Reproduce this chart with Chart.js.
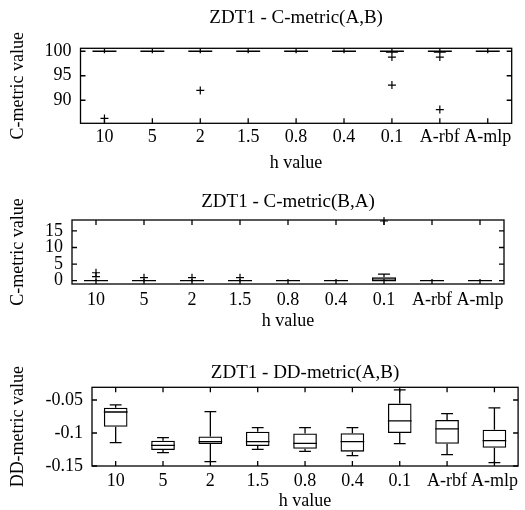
<!DOCTYPE html>
<html>
<head>
<meta charset="utf-8">
<title>ZDT1 - box plots</title>
<script src="https://cdn.jsdelivr.net/npm/chart.js@4.4.1/dist/chart.umd.min.js"></script>
<style>
  html, body { margin: 0; padding: 0; background: #fff; }
  #wrap { position: relative; width: 525px; height: 510px; }
  #wrap canvas { position: absolute; left: 0; top: 0; }
</style>
</head>
<body>
<div id="wrap">
  <canvas id="chart-ab" width="525" height="510"></canvas>
  <canvas id="chart-ba" width="525" height="510"></canvas>
  <canvas id="chart-dd" width="525" height="510"></canvas>
</div>
<script>
// ============================================
// DATA
// ============================================

const hValues = ['10', '5', '2', '1.5', '0.8', '0.4', '0.1', 'A-rbf', 'A-mlp'];

// C-metric(A,B)
const abLow    = [100, 100, 100, 100, 100, 100, 99.8, 99.8, 100];
const abQ1     = [100, 100, 100, 100, 100, 100, 99.9, 99.9, 100];
const abMedian = [100, 100, 100, 100, 100, 100, 100, 100, 100];
const abQ3     = [100, 100, 100, 100, 100, 100, 100, 100, 100];
const abHigh   = [100, 100, 100, 100, 100, 100, 100, 100, 100];
const abOutliers = [['10', 86.3], ['2', 92.0], ['0.1', 98.8], ['0.1', 93.1], ['A-rbf', 98.8], ['A-rbf', 88.1]];
const abTicks  = [90, 95, 100];

// C-metric(B,A)
const baLow    = [0, 0, 0, 0, 0, 0, 0, 0, 0];
const baQ1     = [0, 0, 0, 0, 0, 0, 0, 0, 0];
const baMedian = [0, 0, 0, 0, 0, 0, 0, 0, 0];
const baQ3     = [0, 0, 0, 0, 0, 0, 1.0, 0, 0];
const baHigh   = [0, 0, 0, 0, 0, 0, 2.0, 0, 0];
const baOutliers = [['10', 2.4], ['10', 1.2], ['5', 0.9], ['2', 0.9], ['1.5', 0.9], ['0.1', 18.0]];
const baTicks  = [0, 5, 10, 15];

// DD-metric(A,B)
const ddLow    = [-0.1147, -0.1298, -0.1435, -0.1248, -0.1278, -0.1344, -0.1162, -0.1328, -0.1450];
const ddQ1     = [-0.0906, -0.1258, -0.1167, -0.1197, -0.1240, -0.1283, -0.1000, -0.1162, -0.1223];
const ddMedian = [-0.0682, -0.1187, -0.1131, -0.1131, -0.1156, -0.1131, -0.0818, -0.0939, -0.1117];
const ddQ3     = [-0.0618, -0.1117, -0.1053, -0.0980, -0.1008, -0.1005, -0.0555, -0.0803, -0.0950];
const ddHigh   = [-0.0574, -0.1071, -0.0677, -0.0919, -0.0919, -0.0919, -0.0348, -0.0707, -0.0621];
const ddOutliers = [];
const ddTicks  = [-0.15, -0.1, -0.05];

// ============================================
// STYLE
// ============================================

const W = 525, H = 510;
const INK = '#000';
const LINE_W = 1.3;
const TICK = 5;
const FS = 18;
const SERIF = "'Liberation Serif', 'Times New Roman', serif";
const FONT = { family: SERIF, size: FS, weight: 'normal', lineHeight: 1 };
const TITLE_FONT = { family: SERIF, size: 19, weight: 'normal', lineHeight: 1 };

// ============================================
// PLUGINS
// ============================================

// whiskers, caps and median line on top of the floating bars
const boxWhiskers = {
    id: 'boxWhiskers',
    afterDatasetsDraw(chart, args, opts) {
        const { ctx, scales: { x, y } } = chart;
        const bars = chart.getDatasetMeta(0).data;
        const boxes = chart.data.datasets[0].data;
        ctx.save();
        ctx.strokeStyle = INK;
        ctx.lineWidth = LINE_W;
        bars.forEach((bar, i) => {
            const cx = x.getPixelForValue(i);
            const half = bar.width / 2;
            const cap = bar.width / 4;
            const yQ1 = y.getPixelForValue(Math.min(...boxes[i]));
            const yQ3 = y.getPixelForValue(Math.max(...boxes[i]));
            const yLow = y.getPixelForValue(opts.low[i]);
            const yHigh = y.getPixelForValue(opts.high[i]);
            const yMed = y.getPixelForValue(opts.median[i]);
            ctx.beginPath();
            ctx.moveTo(cx, yQ3); ctx.lineTo(cx, yHigh);
            ctx.moveTo(cx - cap, yHigh); ctx.lineTo(cx + cap, yHigh);
            ctx.moveTo(cx, yQ1); ctx.lineTo(cx, yLow);
            ctx.moveTo(cx - cap, yLow); ctx.lineTo(cx + cap, yLow);
            ctx.moveTo(cx - half, yMed); ctx.lineTo(cx + half, yMed);
            ctx.stroke();
        });
        ctx.restore();
    }
};

// gnuplot style border with inward ticks on all four sides
const frame = {
    id: 'frame',
    afterDatasetsDraw(chart) {
        const { ctx, chartArea: a, scales: { x, y } } = chart;
        ctx.save();
        ctx.strokeStyle = INK;
        ctx.lineWidth = LINE_W;
        ctx.strokeRect(a.left, a.top, a.width, a.height);
        ctx.beginPath();
        x.ticks.forEach((t, i) => {
            const px = x.getPixelForTick(i);
            ctx.moveTo(px, a.bottom); ctx.lineTo(px, a.bottom - TICK);
            ctx.moveTo(px, a.top); ctx.lineTo(px, a.top + TICK);
        });
        y.ticks.forEach(t => {
            const py = y.getPixelForValue(t.value);
            ctx.moveTo(a.left, py); ctx.lineTo(a.left + TICK, py);
            ctx.moveTo(a.right, py); ctx.lineTo(a.right - TICK, py);
        });
        ctx.stroke();
        ctx.restore();
    }
};

// ============================================
// PANEL
// ============================================

function makePanel(id, p) {
    const lh = FS;
    const tlh = TITLE_FONT.size;
    const padTop = p.titleY - tlh / 2 - 1;
    const padBottom = Math.max(0, H - (p.xTitleY + lh / 2 + 1));
    const xBottom = H - padBottom;

    new Chart(document.getElementById(id), {
        type: 'bar',
        data: {
            labels: hValues,
            datasets: [{
                type: 'bar',
                data: p.q1.map((v, i) => [v, p.q3[i]]),
                backgroundColor: 'rgba(0,0,0,0)',
                borderColor: INK,
                borderWidth: LINE_W,
                borderSkipped: false,
                barPercentage: 0.5,
                categoryPercentage: 1
            }, {
                type: 'line',
                data: p.outliers.map(o => ({ x: o[0], y: o[1] })),
                showLine: false,
                pointStyle: 'cross',
                pointRadius: 4,
                borderColor: INK,
                borderWidth: 1.2,
                clip: false
            }]
        },
        options: {
            responsive: false,
            animation: false,
            events: [],
            layout: { padding: { top: padTop, bottom: padBottom, left: 0, right: W - p.right } },
            plugins: {
                legend: { display: false },
                tooltip: { enabled: false },
                title: {
                    display: true,
                    fullSize: false,
                    text: p.title,
                    color: INK,
                    font: TITLE_FONT,
                    padding: { top: 1, bottom: p.top - p.titleY - tlh / 2 }
                },
                boxWhiskers: { low: p.low, median: p.median, high: p.high }
            },
            scales: {
                x: {
                    type: 'category',
                    offset: true,
                    grid: { display: false, drawTicks: false },
                    border: { display: false },
                    ticks: {
                        autoSkip: false,
                        maxRotation: 0,
                        minRotation: 0,
                        color: INK,
                        font: FONT,
                        padding: p.xTickY - p.bottom - lh / 2
                    },
                    title: {
                        display: true,
                        text: 'h value',
                        color: INK,
                        font: FONT,
                        padding: { top: 0, bottom: xBottom - p.xTitleY - lh / 2 }
                    },
                    afterFit: s => { s.height = xBottom - p.bottom; }
                },
                y: {
                    min: p.yMin,
                    max: p.yMax,
                    grid: { display: false, drawTicks: false },
                    border: { display: false },
                    afterBuildTicks: s => { s.ticks = p.yTicks.map(v => ({ value: v })); },
                    ticks: {
                        color: INK,
                        font: FONT,
                        padding: 9,
                        callback: v => String(v)
                    },
                    title: {
                        display: true,
                        text: p.yTitle,
                        color: INK,
                        font: FONT,
                        padding: { top: p.yTitleX - lh / 2, bottom: 0 }
                    },
                    afterFit: s => { s.width = p.left; }
                }
            }
        },
        plugins: [boxWhiskers, frame]
    });
}

makePanel('chart-ab', {
    title: 'ZDT1 - C-metric(A,B)', yTitle: 'C-metric value',
    low: abLow, q1: abQ1, median: abMedian, q3: abQ3, high: abHigh, outliers: abOutliers,
    yTicks: abTicks, yMin: 85.3, yMax: 100.6,
    titleY: 18.3, top: 48.3, bottom: 123.3, left: 80.5, right: 511.7,
    xTickY: 137, xTitleY: 163, yTitleX: 18
});

makePanel('chart-ba', {
    title: 'ZDT1 - C-metric(B,A)', yTitle: 'C-metric value',
    low: baLow, q1: baQ1, median: baMedian, q3: baQ3, high: baHigh, outliers: baOutliers,
    yTicks: baTicks, yMin: -1, yMax: 18.3,
    titleY: 201.7, top: 220, bottom: 284, left: 72, right: 504,
    xTickY: 300, xTitleY: 321.7, yTitleX: 18
});

makePanel('chart-dd', {
    title: 'ZDT1 - DD-metric(A,B)', yTitle: 'DD-metric value',
    low: ddLow, q1: ddQ1, median: ddMedian, q3: ddQ3, high: ddHigh, outliers: ddOutliers,
    yTicks: ddTicks, yMin: -0.15, yMax: -0.0308,
    titleY: 373.3, top: 387.3, bottom: 466, left: 92, right: 523,
    xTickY: 481.7, xTitleY: 501.7, yTitleX: 18
});
</script>
</body>
</html>
